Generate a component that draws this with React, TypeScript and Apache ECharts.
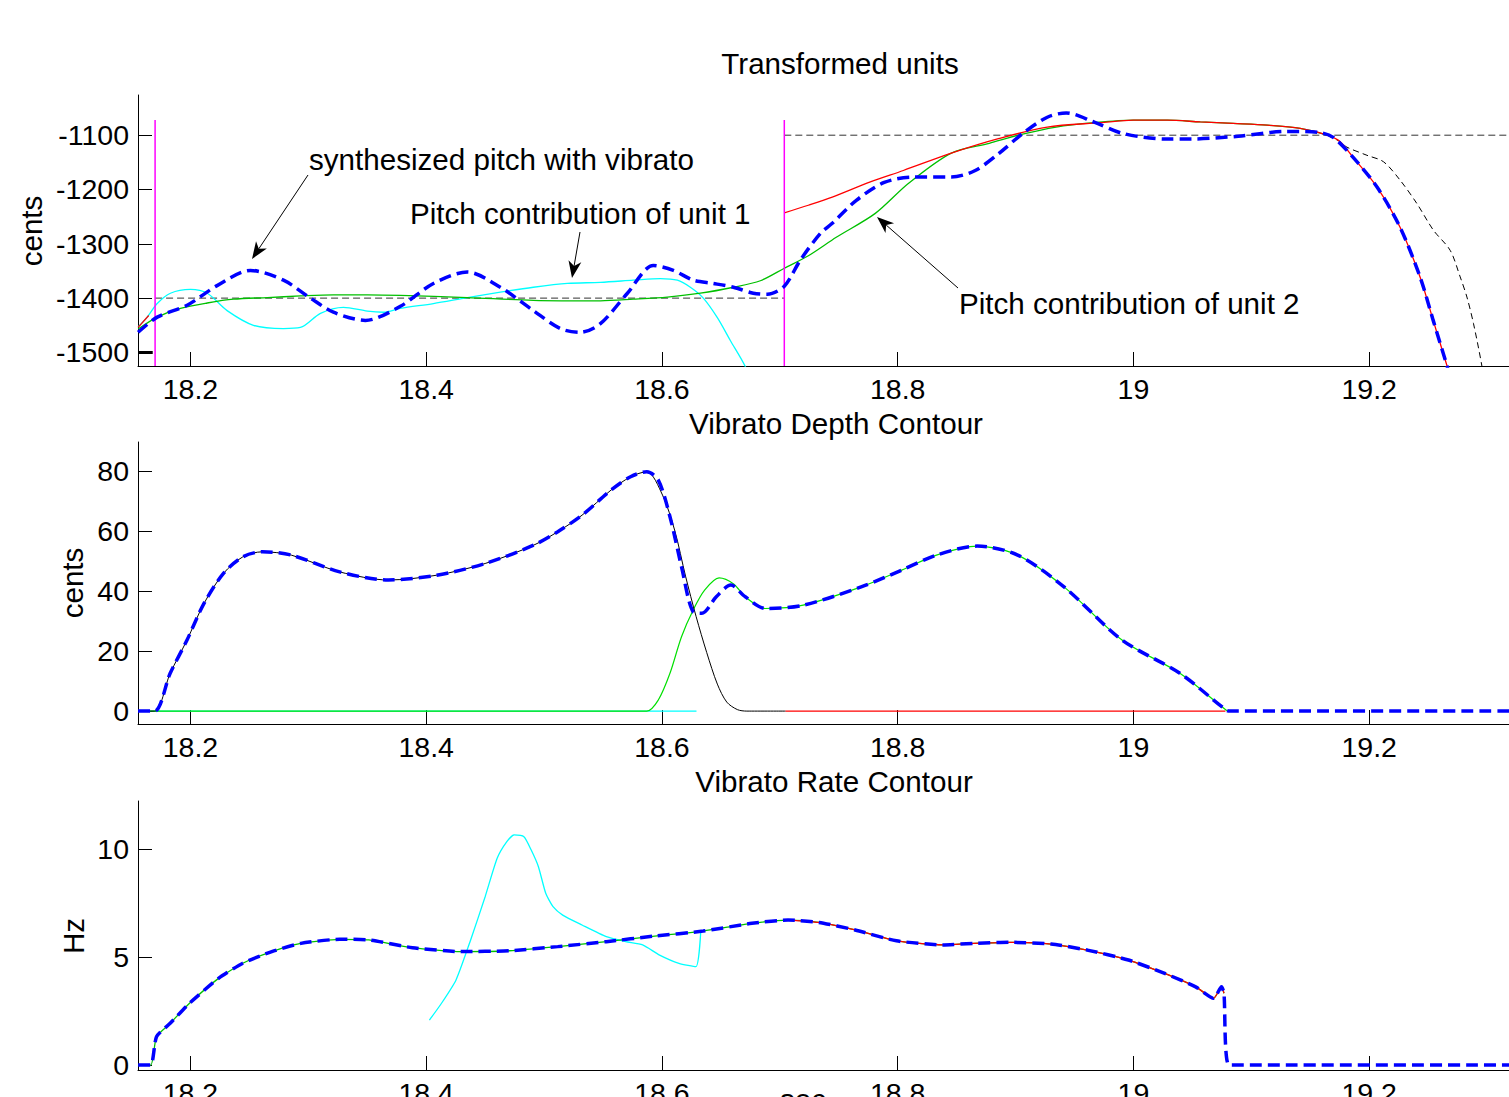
import React, { useEffect, useRef } from 'react';
import * as echarts from 'echarts';

const FONT = "'Liberation Sans', Arial, Helvetica, sans-serif";

// ---------- axes ----------
const xMin = 18.1555;
const xMax = 19.35;
const xTicks = [18.2, 18.4, 18.6, 18.8, 19, 19.2];
const pitchTicks = [-1500, -1400, -1300, -1200, -1100];
const depthTicks = [0, 20, 40, 60, 80];
const rateTicks = [0, 5, 10];

// ---------- top: transformed units (cents) ----------
const pitchSynth = [
  [18.1556, -1463], [18.1718, -1435], [18.1972, -1413], [18.2226, -1377], [18.2509, -1349],
  [18.2789, -1367], [18.3018, -1400], [18.3213, -1426], [18.3484, -1441], [18.3781, -1415],
  [18.4061, -1373], [18.4349, -1352], [18.4629, -1380], [18.4909, -1423], [18.5138, -1456],
  [18.5308, -1463], [18.5478, -1447], [18.5707, -1391], [18.5927, -1340], [18.6097, -1349],
  [18.6267, -1367], [18.6436, -1373], [18.6606, -1380], [18.6775, -1391], [18.6894, -1393],
  [18.7038, -1378], [18.7174, -1330], [18.7344, -1281], [18.7445, -1262], [18.7649, -1220],
  [18.7886, -1187], [18.8132, -1177], [18.8455, -1177], [18.8658, -1165], [18.8862, -1133],
  [18.9065, -1096], [18.9269, -1067], [18.943, -1059], [18.9667, -1076], [18.9913, -1097],
  [19.0278, -1107], [19.0482, -1107], [19.0889, -1102], [19.1296, -1093], [19.1576, -1095],
  [19.1695, -1104], [19.1864, -1141], [19.2068, -1196], [19.2263, -1270], [19.2433, -1362],
  [19.2543, -1441], [19.2662, -1526], [19.272, -1570],
];
const pitchUnit1 = [
  [18.1556, -1453], [18.1633, -1435], [18.1718, -1410], [18.183, -1391], [18.2, -1384],
  [18.2142, -1391], [18.2311, -1423], [18.2534, -1450], [18.2789, -1456], [18.2933, -1454],
  [18.3103, -1428], [18.3298, -1417], [18.3501, -1424], [18.3637, -1426], [18.3781, -1419],
  [18.4061, -1410], [18.4349, -1399], [18.4629, -1389], [18.4909, -1380], [18.5198, -1373],
  [18.5478, -1371], [18.5757, -1367], [18.5986, -1364], [18.6131, -1367], [18.6241, -1380],
  [18.6351, -1400], [18.647, -1436], [18.658, -1478], [18.6707, -1526], [18.676, -1560],
];
const pitchUnit2Green = [
  [18.1556, -1457], [18.1718, -1435], [18.1915, -1419], [18.2142, -1409], [18.2365, -1402],
  [18.2653, -1399], [18.2933, -1396], [18.3213, -1394], [18.3501, -1394], [18.3781, -1395],
  [18.4349, -1399], [18.4909, -1404], [18.5478, -1405], [18.5757, -1402], [18.6046, -1398],
  [18.6326, -1391], [18.6606, -1380], [18.6835, -1368], [18.7038, -1345], [18.7242, -1322],
  [18.7479, -1288], [18.781, -1244], [18.809, -1189], [18.8455, -1133], [18.8777, -1115],
  [18.9023, -1100], [18.9345, -1085], [18.9667, -1077], [18.9998, -1072.4], [19.0287, -1072.4],
  [19.0567, -1075.5], [19.0846, -1078.4], [19.1135, -1081.6], [19.1415, -1087.6], [19.1644, -1100],
];
const pitchUnit2Red = [
  [18.7038, -1243], [18.7242, -1229], [18.7445, -1214], [18.7768, -1186], [18.8048, -1165],
  [18.8455, -1133], [18.8862, -1106], [18.9269, -1085], [18.9718, -1077], [18.9998, -1072.4],
  [19.0287, -1072.4], [19.0567, -1075.5], [19.0846, -1078.4], [19.1135, -1081.6], [19.1415, -1087.6],
  [19.1644, -1100], [19.1754, -1112], [19.1864, -1141], [19.2068, -1196], [19.2263, -1270],
  [19.2433, -1362], [19.2543, -1441], [19.2662, -1526], [19.272, -1570],
];
const pitchRedStart = [[18.1556, -1454], [18.1646, -1432]];
const pitchOriginal = [
  [19.1644, -1100], [19.1754, -1112], [19.1811, -1122], [19.1981, -1137], [19.2122, -1149],
  [19.2263, -1183], [19.2405, -1226], [19.2545, -1275], [19.2687, -1312], [19.2772, -1361],
  [19.2829, -1398], [19.2885, -1447], [19.2956, -1525], [19.2975, -1560],
];
const targetPrev = [[18.1555, -1500], [18.168, -1500]];
const targetUnit1 = [[18.17, -1400], [18.7038, -1400]];
const targetUnit2 = [[18.7038, -1100], [19.35, -1100]];
const unitBoundaries = [18.17, 18.7038];
const boundaryRange = [-1525, -1072];

// ---------- middle: vibrato depth (cents) ----------
const depthSynth = [
  [18.1555, 0], [18.1695, 0], [18.1828, 12.6], [18.1971, 23.7], [18.2115, 35.9], [18.228, 45.9],
  [18.2444, 51.4], [18.2609, 53.1], [18.2855, 52], [18.3266, 46.4], [18.3678, 43.7], [18.4089, 45.3],
  [18.45, 49.2], [18.4911, 55.3], [18.5116, 59.8], [18.5322, 65.3], [18.5569, 73.7], [18.5734, 78.1],
  [18.5871, 79.8], [18.5969, 77], [18.6068, 64.8], [18.6166, 48.1], [18.6265, 33.1], [18.6338, 32.6],
  [18.6461, 38.1], [18.6584, 42], [18.6707, 38.1], [18.6879, 34.2], [18.7198, 35.3], [18.769, 41.4],
  [18.8034, 47], [18.8329, 52], [18.8673, 55], [18.9018, 52], [18.9411, 41.4], [18.9903, 23.7],
  [19.0394, 12.6], [19.0788, 0.3], [19.082, 0], [19.35, 0],
];
const depthUnit1 = [
  [18.1555, 0], [18.1695, 0], [18.1828, 12.6], [18.1971, 23.7], [18.2115, 35.9], [18.228, 45.9],
  [18.2444, 51.4], [18.2609, 53.1], [18.2855, 52], [18.3266, 46.4], [18.3678, 43.7], [18.4089, 45.3],
  [18.45, 49.2], [18.4911, 55.3], [18.5116, 59.8], [18.5322, 65.3], [18.5569, 73.7], [18.5734, 78.1],
  [18.5871, 79.8], [18.6005, 72], [18.611, 60], [18.62, 45], [18.629, 31.5], [18.638, 19.5],
  [18.647, 9], [18.655, 3], [18.664, 0.5], [18.672, 0], [18.7047, 0],
];
const depthUnit2 = [
  [18.1555, 0], [18.5871, 0], [18.5969, 3.7], [18.6068, 12.6], [18.6166, 24.8], [18.6265, 33.7],
  [18.6362, 40.3], [18.6485, 44.4], [18.6608, 42.4], [18.6707, 38.1], [18.6879, 34.2], [18.7198, 35.3],
  [18.769, 41.4], [18.8034, 47], [18.8329, 52], [18.8673, 55], [18.9018, 52], [18.9411, 41.4],
  [18.9903, 23.7], [19.0394, 12.6], [19.0788, 0.3], [19.082, 0],
];
const depthCyan = [[18.1555, 0], [18.6293, 0]];
const depthRed = [[18.7047, 0], [19.078, 0]];

// ---------- bottom: vibrato rate (Hz) ----------
const rateSynth = [
  [18.1556, 0], [18.1663, 0], [18.1712, 1.31], [18.1828, 1.93], [18.1992, 2.86], [18.2238, 4.01],
  [18.2444, 4.71], [18.269, 5.25], [18.2937, 5.63], [18.3266, 5.82], [18.3513, 5.79], [18.3883, 5.43],
  [18.4294, 5.25], [18.4706, 5.29], [18.5116, 5.48], [18.5528, 5.71], [18.5939, 5.97], [18.635, 6.2],
  [18.6763, 6.56], [18.707, 6.71], [18.7332, 6.6], [18.7639, 6.25], [18.7989, 5.75], [18.8382, 5.56],
  [18.8646, 5.63], [18.8952, 5.68], [18.9302, 5.6], [18.9608, 5.32], [18.9958, 4.86], [19.0265, 4.24],
  [19.0528, 3.62], [19.068, 3.09], [19.0747, 3.62], [19.0768, 3.32], [19.0812, 0], [19.35, 0],
];
const rateUnit1 = [
  [18.4027, 2.08], [18.413, 2.86], [18.4253, 3.94], [18.4377, 5.79], [18.45, 7.79], [18.4602, 9.57],
  [18.4684, 10.34], [18.4746, 10.65], [18.4829, 10.57], [18.4891, 9.95], [18.4952, 9.18], [18.5014, 7.95],
  [18.5076, 7.33], [18.5158, 6.94], [18.5322, 6.48], [18.5528, 5.94], [18.5692, 5.71], [18.5836, 5.56],
  [18.598, 5.09], [18.6144, 4.71], [18.6288, 4.55], [18.6329, 6.17],
];
const rateGreen = rateSynth.filter(([x]) => x <= 19.077);
const rateRed = rateSynth.filter(([x]) => x >= 18.707 && x <= 19.077);

// ---------- layout ----------
const grids = [
  { left: 138, top: 95, width: 1408, height: 271, outerBoundsMode: 'none', containLabel: false },
  { left: 138, top: 442, width: 1408, height: 282, outerBoundsMode: 'none', containLabel: false },
  { left: 138, top: 801, width: 1408, height: 269, outerBoundsMode: 'none', containLabel: false },
];
const yRanges = [
  [-1525, -1026],
  [-4.3, 89.7],
  [-0.23, 12.22],
];
const yTickSets = [pitchTicks, depthTicks, rateTicks];

function xAxisFor(i: number) {
  return {
    type: 'value', gridIndex: i, min: xMin, max: xMax,
    axisLine: { show: true, onZero: false, lineStyle: { color: '#000', width: 1 } },
    axisTick: { show: true, inside: true, length: 14, customValues: xTicks, lineStyle: { color: '#000', width: 1 } },
    axisLabel: { customValues: xTicks, formatter: (v: number) => String(v), color: '#000', fontSize: 28.5, fontFamily: FONT, margin: 8, hideOverlap: false },
    splitLine: { show: false },
  };
}
function yAxisFor(i: number) {
  return {
    type: 'value', gridIndex: i, min: yRanges[i][0], max: yRanges[i][1],
    axisLine: { show: true, onZero: false, lineStyle: { color: '#000', width: 1 } },
    axisTick: { show: true, inside: true, length: 14, customValues: yTickSets[i], lineStyle: { color: '#000', width: 1 } },
    axisLabel: { customValues: yTickSets[i], formatter: (v: number) => String(v), color: '#000', fontSize: 28.5, fontFamily: FONT, margin: 9 },
    splitLine: { show: false },
  };
}

function line(data: number[][], g: number, color: string, width: number, type: any, z: number, smooth: number | boolean = 0.3) {
  return {
    type: 'line', xAxisIndex: g, yAxisIndex: g, data, symbol: 'none', showSymbol: false,
    smooth, silent: true, clip: true, z,
    lineStyle: { color, width, type },
  };
}

function text(str: string, x: number, y: number, align: string, rotation = 0) {
  return {
    type: 'text', x, y, rotation, silent: true,
    style: { text: str, fill: '#000', fontSize: 29.6, fontFamily: FONT, align, verticalAlign: 'middle' },
  };
}

function arrow(tail: number[], tip: number[]) {
  const dx = tip[0] - tail[0];
  const dy = tip[1] - tail[1];
  const L = Math.hypot(dx, dy);
  const ux = dx / L, uy = dy / L;
  const px = -uy, py = ux;
  const headLen = 17, headW = 13;
  const bx = tip[0] - ux * headLen, by = tip[1] - uy * headLen;
  const nx = tip[0] - ux * headLen * 0.72, ny = tip[1] - uy * headLen * 0.72;
  return [
    { type: 'line', silent: true, shape: { x1: tail[0], y1: tail[1], x2: nx, y2: ny }, style: { stroke: '#000', lineWidth: 1 } },
    {
      type: 'polygon', silent: true,
      shape: { points: [tip, [bx + px * headW / 2, by + py * headW / 2], [nx, ny], [bx - px * headW / 2, by - py * headW / 2]] },
      style: { fill: '#000' },
    },
  ];
}

const BLUE_DASH = [12, 6];
const BLACK_DASH = [7, 4];

export default function App() {
  const ref = useRef<HTMLDivElement>(null);
  useEffect(() => {
    const chart = echarts.init(ref.current as HTMLDivElement, null, { renderer: 'svg' });
    const series: any[] = [
      // top
      line(targetPrev, 0, '#000', 3, 'solid', 2, false),
      line(targetUnit1, 0, '#333', 1, BLACK_DASH, 2, false),
      line(targetUnit2, 0, '#333', 1, BLACK_DASH, 2, false),
      line(pitchOriginal, 0, '#000', 1, [6, 4], 2),
      line(pitchUnit1, 0, '#00FFFF', 1.3, 'solid', 3),
      line(pitchUnit2Green, 0, '#00C000', 1.3, 'solid', 4),
      line(pitchUnit2Red, 0, '#FF0000', 1.3, 'solid', 5),
      line(pitchRedStart, 0, '#FF0000', 1.3, 'solid', 5, false),
      ...unitBoundaries.map((b) => line([[b, boundaryRange[0]], [b, boundaryRange[1]]], 0, '#FF00FF', 1.5, 'solid', 6, false)),
      line(pitchSynth, 0, '#0000FF', 3.5, BLUE_DASH, 10),
      // middle
      line(depthCyan, 1, '#00FFFF', 1.3, 'solid', 3, false),
      line(depthRed, 1, '#FF0000', 1.3, 'solid', 3, false),
      line(depthUnit2, 1, '#00E000', 1.2, 'solid', 4),
      line(depthUnit1, 1, '#000', 1, 'solid', 5),
      line(depthSynth, 1, '#0000FF', 3.5, BLUE_DASH, 10),
      // bottom
      line(rateUnit1, 2, '#00FFFF', 1.3, 'solid', 3, 0.2),
      line(rateGreen, 2, '#00C000', 1.3, 'solid', 4, 0.2),
      line(rateRed, 2, '#FF0000', 1.3, 'solid', 5, 0.2),
      line(rateSynth, 2, '#0000FF', 3.5, BLUE_DASH, 10, 0.2),
    ];
    const graphic: any[] = [
      text('Transformed units', 840, 63, 'center'),
      text('Vibrato Depth Contour', 836, 423, 'center'),
      text('Vibrato Rate Contour', 834, 781, 'center'),
      text('cents', 31, 231, 'center', Math.PI / 2),
      text('cents', 72, 583, 'center', Math.PI / 2),
      text('Hz', 73, 936, 'center', Math.PI / 2),
      text('sec', 803, 1099, 'center'),
      text('synthesized pitch with vibrato', 309, 159, 'left'),
      text('Pitch contribution of unit 1', 410, 213, 'left'),
      text('Pitch contribution of unit 2', 959, 303, 'left'),
      ...arrow([308, 175], [252, 259]),
      ...arrow([580, 232], [572, 278]),
      ...arrow([958, 288], [877, 217]),
    ];
    chart.setOption({
      animation: false,
      backgroundColor: '#fff',
      grid: grids,
      xAxis: [0, 1, 2].map(xAxisFor),
      yAxis: [0, 1, 2].map(yAxisFor),
      series,
      graphic,
    });
    return () => chart.dispose();
  }, []);
  return (
    <div style={{ position: 'fixed', left: 0, top: 0, width: 1509, height: 1097, overflow: 'hidden', background: '#fff' }}>
      <div ref={ref} style={{ width: 1700, height: 1097 }} />
    </div>
  );
}
